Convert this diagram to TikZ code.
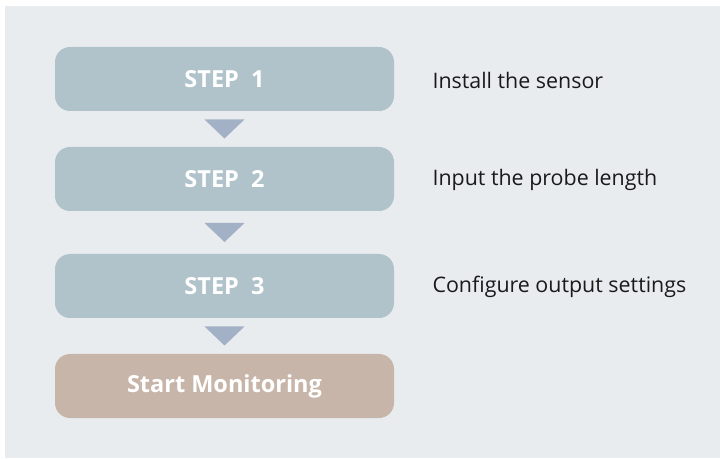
\documentclass[tikz,border=0pt]{standalone}
\usepackage{fontspec}
\setmainfont{Open Sans}
\usepackage{tikz}
\usetikzlibrary{positioning, calc}
\usepackage{xcolor}
\definecolor{Paper}{HTML}{E9ECEF}
\definecolor{StepGray}{HTML}{B0C2CA}
\definecolor{Arrow}{HTML}{A3B1C6}
\definecolor{Clay}{HTML}{C8B5A9}
\definecolor{Ink}{HTML}{1A1A1A}

\tikzset{
    stepbox/.style={rounded corners=15pt, minimum width=339pt, minimum height=64pt,
        inner sep=0pt, font=\fontsize{23.5}{28}\selectfont\bfseries, text=white},
    note/.style={anchor=west, font=\fontsize{21.4}{26}\selectfont, text=Ink}
}

\begin{document}
\begin{tikzpicture}[x=1pt, y=1pt]

% === Canvas ===
\useasboundingbox (0, 0) rectangle (720, 458);
\fill[Paper] (5, 0) rectangle (720, 452);

% === Steps ===
\node[stepbox, fill=StepGray] (s1) at (224.5, 379) {STEP\ \ 1};
\node[stepbox, fill=StepGray] (s2) at (224.5, 279) {STEP\ \ 2};
\node[stepbox, fill=StepGray] (s3) at (224.5, 172) {STEP\ \ 3};
\node[stepbox, fill=Clay] (go) at (224.5, 72) {Start Monitoring};

% Descriptions
\node[note] (d1) at (429, 378) {Install the sensor};
\node[note] (d2) at (429, 278) {Input the probe length};
\node[note] (d3) at (429, 171) {Configure output settings};

% Down markers between boxes
\foreach \a/\b in {s1/s2, s2/s3, s3/go} {
    \coordinate (m) at ($(\a.south)!0.5!(\b.north)$);
    \fill[Arrow] ($(m)+(-20, 9.5)$) -- ($(m)+(20, 9.5)$) -- ($(m)+(0, -9.5)$) -- cycle;
}

\end{tikzpicture}
\end{document}
